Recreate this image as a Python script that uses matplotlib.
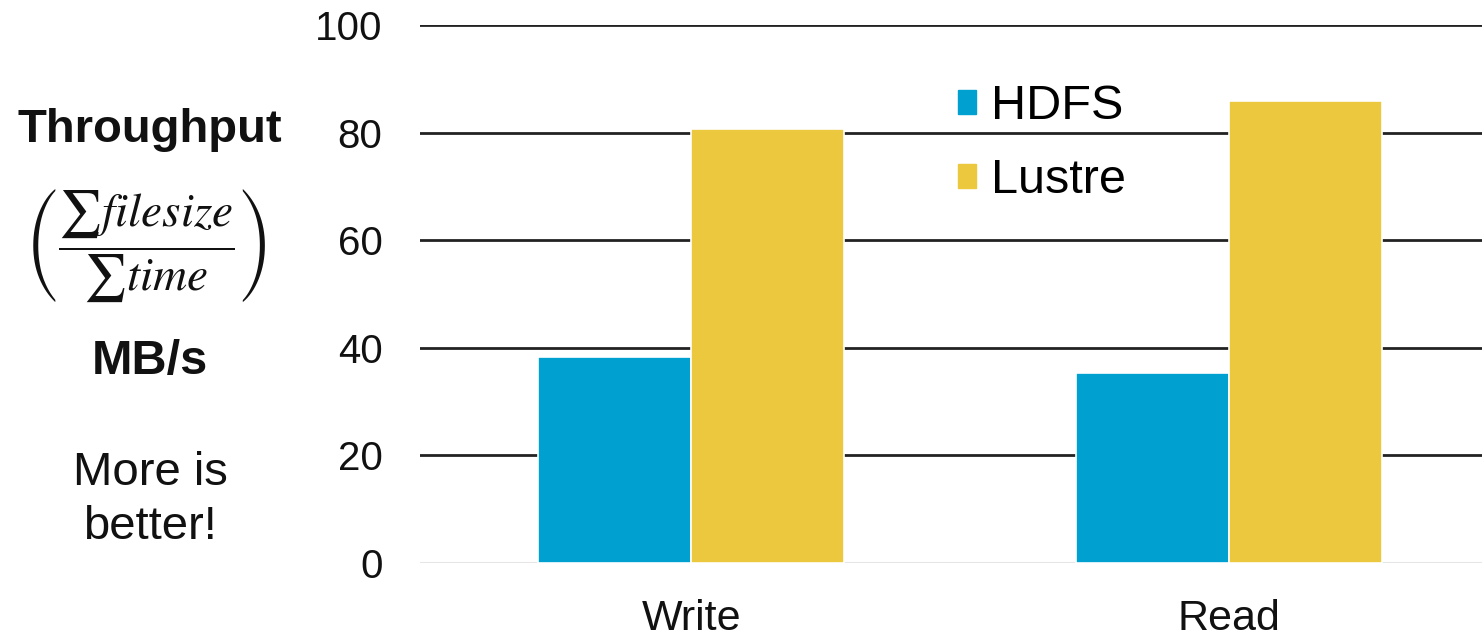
import matplotlib
matplotlib.use('Agg')
import matplotlib.pyplot as plt
from matplotlib.patches import Patch

# values
categories = ['Write', 'Read']
hdfs = [38.3, 35.3]
lustre = [80.7, 85.9]
series_names = ['HDFS', 'Lustre']
y_ticks = [0, 20, 40, 60, 80, 100]

blue = '#00A1D1'
yellow = '#EBC83E'

plt.rcParams['font.family'] = ['Liberation Sans', 'DejaVu Sans']
plt.rcParams['mathtext.fontset'] = 'stix'

fig = plt.figure(figsize=(14.82, 6.37), dpi=100)
ax = fig.add_axes([420 / 1482, 74 / 637, 1062 / 1482, 538 / 637])

x = list(range(len(categories)))
w = 0.284
ax.bar([i - w / 2 for i in x], hdfs, w, color=blue, edgecolor='white', linewidth=1.2, zorder=3)
ax.bar([i + w / 2 for i in x], lustre, w, color=yellow, edgecolor='white', linewidth=1.2, zorder=3)

ax.set_xlim(-0.504, 1.47)
ax.set_ylim(0, 100)
ax.set_yticks(y_ticks)
ax.set_xticks(x)
ax.set_xticklabels(categories)
for t in y_ticks[1:]:
    ax.axhline(t, color='#222222', linewidth=2, zorder=1)
ax.axhline(0, color='#e6e6e6', linewidth=1.5, zorder=1)

for s in ax.spines.values():
    s.set_visible(False)
ax.tick_params(axis='y', length=0, pad=27, labelsize=29, labelcolor='#111111')
ax.tick_params(axis='x', length=0, pad=26, labelsize=31, labelcolor='#111111')

handles = [Patch(color=blue), Patch(color=yellow)]
fig.legend(handles, series_names, loc='upper left', bbox_to_anchor=(934 / 1482, 1 - 60 / 637),
           frameon=False, fontsize=35, handlelength=0.36, handleheight=0.36,
           handletextpad=0.32, labelspacing=0.6, borderpad=0)

# left-hand description
cx = 150 / 1482
fig.text(cx, 1 - 130 / 637, 'Throughput', ha='center', va='center', fontsize=34, fontweight='bold', color='#111111')
fig.text(cx - 5 / 1482, 1 - 245 / 637, r'$\left(\dfrac{\sum filesize}{\sum time}\right)$', ha='center', va='center',
         fontsize=34, color='#111111')
fig.text(cx, 1 - 361 / 637, 'MB/s', ha='center', va='center', fontsize=35, fontweight='bold', color='#111111')
fig.text(cx, 1 - 500 / 637, 'More is\nbetter!', ha='center', va='center', fontsize=34, color='#111111',
         linespacing=1.3)

fig.savefig('out.png', dpi=100)
